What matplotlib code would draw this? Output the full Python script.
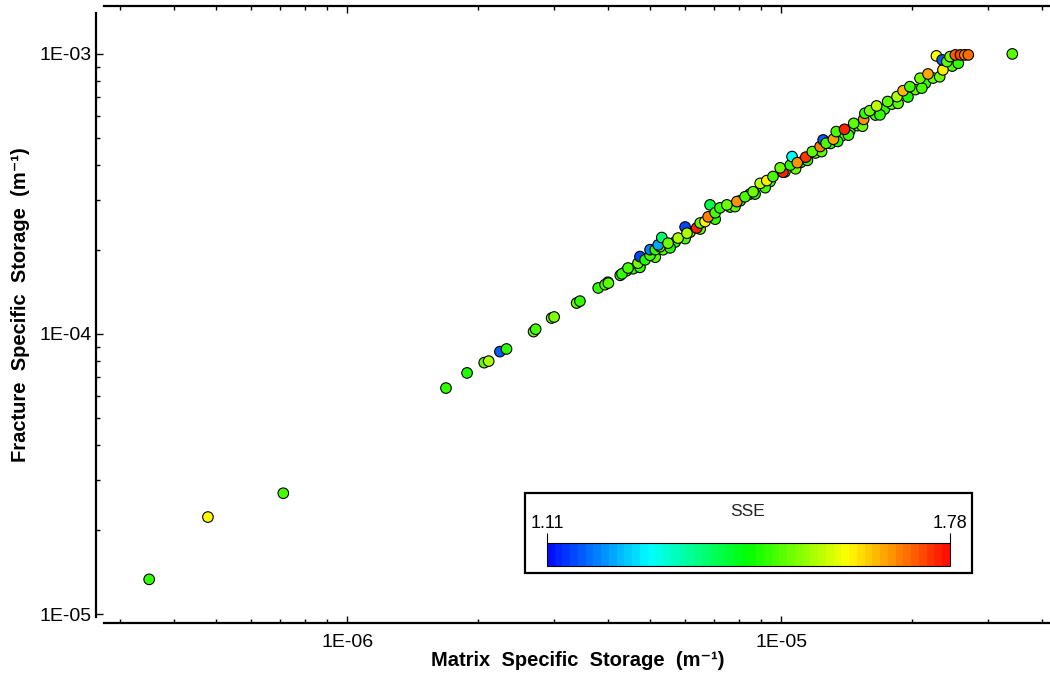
import matplotlib
matplotlib.use("Agg")
import matplotlib.pyplot as plt
import matplotlib.colors as mcolors
import matplotlib.ticker as mticker
from matplotlib.patches import Rectangle
import numpy as np

plt.rcParams['font.family'] = ['Liberation Sans', 'DejaVu Sans']

# ---- data ----
# filler points along the dense band (drawn first)
fill_matrix = [4.56e-6, 5.35e-6, 5.70e-6, 6.17e-6, 7.63e-6, 8.05e-6, 8.48e-6, 9.43e-6,
               1.02e-5, 1.11e-5, 1.20e-5, 1.30e-5, 1.38e-5, 1.44e-5, 1.50e-5, 1.65e-5,
               1.73e-5, 1.80e-5, 2.04e-5, 2.15e-5, 2.24e-5, 2.48e-5,
               4.73e-6, 5.13e-6, 5.55e-6, 6.01e-6, 6.51e-6, 7.05e-6, 7.83e-6, 8.71e-6,
               9.19e-6, 1.08e-5, 1.15e-5, 1.24e-5, 1.35e-5, 1.43e-5, 1.54e-5, 1.69e-5,
               1.86e-5, 1.96e-5, 2.11e-5, 2.32e-5, 2.56e-5]
fill_fracture = [1.71e-4, 2.00e-4, 2.13e-4, 2.31e-4, 2.84e-4, 2.99e-4, 3.16e-4, 3.50e-4,
                 3.79e-4, 4.10e-4, 4.43e-4, 4.79e-4, 5.10e-4, 5.32e-4, 5.55e-4, 6.05e-4,
                 6.35e-4, 6.62e-4, 7.46e-4, 7.86e-4, 8.20e-4, 9.05e-4,
                 1.73e-4, 1.88e-4, 2.03e-4, 2.19e-4, 2.37e-4, 2.57e-4, 2.85e-4, 3.16e-4,
                 3.33e-4, 3.89e-4, 4.17e-4, 4.48e-4, 4.87e-4, 5.13e-4, 5.52e-4, 6.06e-4,
                 6.66e-4, 7.02e-4, 7.55e-4, 8.29e-4, 9.26e-4]
fill_sse = [1.47, 1.50, 1.48, 1.51, 1.49, 1.47, 1.50, 1.48,
            1.51, 1.49, 1.52, 1.48, 1.50, 1.47, 1.51, 1.49,
            1.48, 1.51, 1.50, 1.48, 1.52, 1.49,
            1.48, 1.50, 1.47, 1.49, 1.51, 1.48, 1.50, 1.47,
            1.49, 1.51, 1.48, 1.50, 1.47, 1.49, 1.52, 1.48,
            1.50, 1.47, 1.49, 1.51, 1.48]

# sparse low end of the cloud
low_matrix = [3.50e-7, 4.78e-7, 7.13e-7, 1.69e-6, 1.89e-6, 2.07e-6, 2.12e-6, 2.25e-6,
              2.33e-6, 2.69e-6, 2.72e-6, 2.96e-6, 3.00e-6, 3.38e-6, 3.44e-6, 3.99e-6,
              3.79e-6, 3.93e-6, 4.00e-6, 4.26e-6, 4.40e-6]
low_fracture = [1.33e-5, 2.22e-5, 2.70e-5, 6.41e-5, 7.26e-5, 7.90e-5, 8.00e-5, 8.65e-5,
                8.84e-5, 1.02e-4, 1.04e-4, 1.14e-4, 1.15e-4, 1.29e-4, 1.31e-4, 1.53e-4,
                1.46e-4, 1.50e-4, 1.52e-4, 1.62e-4, 1.68e-4]
low_sse = [1.48, 1.61, 1.49, 1.48, 1.47, 1.50, 1.55, 1.17,
           1.48, 1.51, 1.49, 1.51, 1.53, 1.50, 1.48, 1.18,
           1.48, 1.49, 1.50, 1.48, 1.50]

# dense band
band_matrix = [4.30e-6, 4.44e-6, 4.68e-6, 4.73e-6, 4.86e-6, 4.99e-6, 4.99e-6, 5.13e-6,
               5.26e-6, 5.21e-6, 5.31e-6, 5.49e-6, 5.79e-6, 6.01e-6, 6.07e-6, 6.39e-6,
               6.51e-6, 6.68e-6, 6.79e-6, 6.86e-6, 7.05e-6, 7.23e-6, 7.50e-6, 7.91e-6,
               8.26e-6, 8.62e-6, 8.95e-6, 9.27e-6, 9.58e-6, 1.01e-5, 9.95e-6, 1.05e-5,
               1.06e-5, 1.09e-5, 1.14e-5, 1.18e-5, 1.23e-5, 1.25e-5, 1.27e-5, 1.32e-5,
               1.34e-5, 1.40e-5, 1.47e-5, 1.55e-5, 1.56e-5, 1.60e-5, 1.66e-5, 1.76e-5,
               1.85e-5, 1.91e-5, 1.98e-5, 2.09e-5, 2.18e-5, 2.36e-5, 2.28e-5, 2.35e-5,
               2.41e-5, 2.45e-5, 2.52e-5, 2.59e-5, 2.65e-5, 2.70e-5, 3.41e-5]
band_fracture = [1.64e-4, 1.72e-4, 1.79e-4, 1.89e-4, 1.84e-4, 1.91e-4, 2.00e-4, 2.00e-4,
                 2.05e-4, 2.08e-4, 2.21e-4, 2.11e-4, 2.20e-4, 2.41e-4, 2.29e-4, 2.39e-4,
                 2.49e-4, 2.52e-4, 2.62e-4, 2.89e-4, 2.71e-4, 2.82e-4, 2.89e-4, 2.97e-4,
                 3.09e-4, 3.22e-4, 3.45e-4, 3.53e-4, 3.65e-4, 3.78e-4, 3.92e-4, 4.01e-4,
                 4.30e-4, 4.09e-4, 4.28e-4, 4.48e-4, 4.67e-4, 4.93e-4, 4.80e-4, 4.96e-4,
                 5.28e-4, 5.38e-4, 5.65e-4, 5.84e-4, 6.14e-4, 6.27e-4, 6.52e-4, 6.76e-4,
                 7.04e-4, 7.39e-4, 7.64e-4, 8.19e-4, 8.48e-4, 8.77e-4, 9.84e-4, 9.52e-4,
                 9.39e-4, 9.78e-4, 9.92e-4, 9.92e-4, 9.92e-4, 9.92e-4, 1.00e-3]
band_sse = [1.48, 1.49, 1.51, 1.15, 1.47, 1.49, 1.20, 1.48,
            1.50, 1.22, 1.38, 1.51, 1.56, 1.16, 1.55, 1.76,
            1.50, 1.62, 1.69, 1.40, 1.49, 1.48, 1.51, 1.68,
            1.49, 1.52, 1.57, 1.62, 1.49, 1.76, 1.51, 1.48,
            1.28, 1.68, 1.75, 1.50, 1.69, 1.17, 1.49, 1.67,
            1.49, 1.76, 1.50, 1.68, 1.48, 1.51, 1.57, 1.50,
            1.56, 1.66, 1.49, 1.51, 1.67, 1.62, 1.61, 1.17,
            1.50, 1.52, 1.72, 1.73, 1.70, 1.71, 1.50]

sse_min, sse_max = 1.11, 1.78
cbar_title = "SSE"
x_label = "Matrix  Specific  Storage  (m\u207b\u00b9)"
y_label = "Fracture  Specific  Storage  (m\u207b\u00b9)"

# ---- style ----
W, H = 1050, 675
fig = plt.figure(figsize=(W / 100, H / 100), dpi=100)

cmap = mcolors.LinearSegmentedColormap.from_list(
    "tec_rainbow", ["#0010ff", "#00ffff", "#00ff00", "#ffff00", "#ff1000"], N=52)
norm = mcolors.Normalize(vmin=sse_min, vmax=sse_max)

# axes spans x 104 -> 1100 px (beyond figure), y 6 -> 623 px
ax = fig.add_axes([104 / W, (H - 623) / H, (1100 - 104) / W, 617 / H])
ax.set_xscale('log')
ax.set_yscale('log')
ax.set_xlim(2.754e-7, 5.43e-5)
ax.set_ylim(9.29e-6, 1.483e-3)

for xs, ys, cs in [(fill_matrix, fill_fracture, fill_sse),
                   (low_matrix, low_fracture, low_sse),
                   (band_matrix, band_fracture, band_sse)]:
    ax.scatter(xs, ys, c=cs, cmap=cmap, norm=norm, s=58,
               edgecolors='black', linewidths=0.8, zorder=3, clip_on=False)

fmt = mticker.FuncFormatter(lambda v, p: "1E-%02d" % int(round(-np.log10(v))))
for axis in (ax.xaxis, ax.yaxis):
    axis.set_major_locator(mticker.LogLocator(base=10, numticks=20))
    axis.set_minor_locator(mticker.LogLocator(base=10, subs=np.arange(2, 10), numticks=20))
    axis.set_major_formatter(fmt)
    axis.set_minor_formatter(mticker.NullFormatter())

ax.spines['right'].set_visible(False)
for sp in ['left', 'bottom', 'top']:
    ax.spines[sp].set_linewidth(1.6)
ax.spines['left'].set_position(('outward', 6))
ax.spines['left'].set_bounds(9.76e-6, 1.40e-3)

ax.tick_params(which='both', direction='in', top=True, right=False, width=1.0,
               labelsize=14, colors='black')
ax.tick_params(which='major', length=5)
ax.tick_params(which='minor', length=3)
ax.tick_params(axis='x', which='major', pad=8)
ax.tick_params(axis='y', which='major', pad=3)

fig.text(578 / W, 1 - 660 / H, x_label, ha='center', va='center',
         fontsize=14.5, fontweight='bold')
fig.text(21 / W, 1 - 305 / H, y_label, ha='center', va='center', rotation=90,
         fontsize=14.5, fontweight='bold')

# ---- colour legend box ----
box = Rectangle((525 / W, (H - 573) / H), 447 / W, 80 / H, transform=fig.transFigure,
                facecolor='white', edgecolor='black', linewidth=1.6, zorder=5)
fig.patches.append(box)
cax = fig.add_axes([547 / W, (H - 566) / H, 403 / W, 23 / H], zorder=6)
cb = matplotlib.colorbar.ColorbarBase(cax, cmap=cmap, norm=norm, orientation='horizontal',
                                      ticks=[sse_min, sse_max], ticklocation='top')
cb.outline.set_linewidth(0.8)
cax.tick_params(length=7, width=0.8, labelsize=13, pad=1)
cax.set_xticklabels(["%.2f" % sse_min, "%.2f" % sse_max])
fig.text(748 / W, 1 - 511 / H, cbar_title, ha='center', va='center', fontsize=12.5,
         color='#222222', zorder=7)

fig.savefig("out.png", dpi=100)
